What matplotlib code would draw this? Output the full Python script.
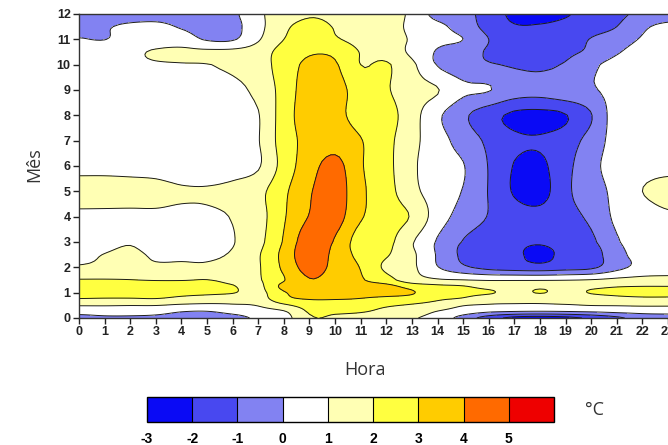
import numpy as np
import matplotlib
matplotlib.use("Agg")
import matplotlib.pyplot as plt

# Hourly temperature anomaly (degC) by month
hours = list(range(24))
months = [0, 0.25, 0.5, 0.75, 1.0, 1.25, 1.5, 2, 2.5, 3, 4, 5, 6, 7, 8, 9, 10, 10.5, 11, 11.5, 12]

row_0_00 = [-0.4, -0.2, -0.2, -0.3, -0.6, -0.7, -0.4, 0.2, 0.6, 1.9, 1.9, 1.7, 1.4, 1.1, 0.6, -0.4, -1.5, -2.3, -2.5, -2.3, -1.8, -1.2, -0.6, -0.4]
row_0_25 = [0.4, 0.5, 0.5, 0.4, 0.02, -0.05, 0.3, 0.6, 0.9, 2.1, 2.1, 2.05, 1.8, 1.5, 0.95, 0.5, 0.1, -0.05, -0.1, -0.05, 0.05, 0.2, 0.3, 0.3]
row_0_50 = [1.05, 1.05, 1.02, 1.02, 0.85, 0.8, 0.9, 1.05, 1.8, 2.4, 2.4, 2.3, 2.1, 1.9, 1.6, 1.05, 0.9, 0.85, 0.85, 0.9, 1.02, 1.05, 1.1, 1.1]
row_0_75 = [1.95, 1.9, 1.9, 1.95, 1.7, 1.5, 1.4, 1.5, 2.7, 3.05, 3.05, 2.95, 2.7, 2.5, 2.1, 1.9, 1.4, 1.3, 1.3, 1.4, 1.5, 1.7, 1.8, 1.8]
row_1_00 = [2.5, 2.5, 2.5, 2.5, 2.3, 2.2, 2.05, 1.7, 2.9, 3.6, 3.5, 3.3, 3.4, 3.1, 2.2, 2.2, 2.1, 1.7, 2.05, 1.7, 2.05, 2.2, 2.3, 2.3]
row_1_25 = [2.4, 2.4, 2.4, 2.4, 2.4, 2.3, 2.05, 1.75, 3.3, 3.8, 3.6, 3.3, 3.3, 2.6, 2.2, 2.05, 1.7, 1.6, 1.8, 1.7, 1.8, 1.95, 2.0, 2.0]
row_1_50 = [2.05, 2.05, 2.02, 1.95, 1.95, 2.02, 1.75, 1.9, 2.95, 3.95, 3.6, 3.1, 2.4, 1.4, 1.1, 1.02, 0.9, 0.9, 0.9, 0.95, 1.05, 1.2, 1.3, 1.3]
row_2_00 = [1.1, 1.2, 1.25, 1.15, 1.15, 1.15, 1.3, 1.9, 3.2, 4.4, 3.7, 2.95, 1.8, 1.2, 0.05, -0.8, -1.3, -1.5, -1.6, -1.4, -1.2, -0.3, 0.3, 0.5]
row_2_50 = [0.8, 1.02, 1.15, 0.9, 0.9, 0.9, 1.1, 1.9, 3.3, 4.7, 3.7, 2.7, 2.1, 1.2, -0.1, -1.2, -1.7, -1.8, -2.3, -1.7, -1.5, -0.3, 0.3, 0.5]
row_3_00 = [0.7, 0.8, 0.95, 0.7, 0.65, 0.65, 0.95, 1.7, 3.1, 4.6, 3.9, 2.5, 2.3, 1.1, -0.1, -1.05, -1.5, -1.8, -1.9, -1.6, -1.2, -0.1, 0.4, 0.5]
row_4_00 = [0.85, 0.85, 0.85, 0.85, 0.8, 0.85, 1.05, 1.6, 2.9, 4.05, 4.4, 3.1, 2.5, 1.9, 0.5, -0.4, -1.05, -1.6, -1.7, -1.3, -0.8, 0.2, 0.45, 0.8]
row_5_00 = [1.3, 1.3, 1.3, 1.25, 1.1, 1.08, 1.25, 1.7, 2.8, 3.9, 4.5, 3.2, 2.4, 1.3, 0.5, -0.05, -1.05, -2.1, -2.4, -1.2, -0.5, 0.3, 1.0, 1.45]
row_6_00 = [0.75, 0.75, 0.7, 0.65, 0.5, 0.5, 0.6, 0.9, 2.4, 3.6, 4.3, 3.1, 2.3, 1.2, 0.4, 0.05, -1.05, -2.05, -2.2, -1.3, -0.3, 0.4, 0.6, 0.65]
row_7_00 = [0.3, 0.3, 0.3, 0.3, 0.4, 0.5, 0.7, 0.95, 2.5, 3.3, 3.6, 3.05, 2.3, 1.3, 0.4, -0.4, -1.2, -1.8, -1.9, -1.5, -0.6, 0.4, 0.6, 0.6]
row_8_00 = [0.4, 0.4, 0.4, 0.4, 0.5, 0.6, 0.75, 0.95, 2.5, 3.5, 3.3, 2.6, 2.4, 1.4, 0.2, -0.8, -1.6, -2.2, -2.3, -2.05, -1.05, 0.5, 0.6, 0.6]
row_9_00 = [0.6, 0.6, 0.5, 0.5, 0.6, 0.75, 0.8, 1.25, 2.4, 3.5, 3.4, 2.5, 2.1, 1.4, 1.05, 0.2, 0.05, -0.5, -0.6, -0.3, -0.1, 0.3, 0.5, 0.5]
row_10_0 = [0.6, 0.7, 0.8, 0.9, 0.95, 0.98, 1.15, 1.5, 2.5, 3.2, 3.1, 2.0, 2.1, 1.2, -0.05, -0.6, -0.9, -1.1, -1.2, -0.9, -0.2, 0.3, 0.5, 0.6]
row_10_5 = [0.5, 0.6, 0.8, 1.1, 1.2, 1.2, 1.25, 1.5, 2.4, 2.9, 2.8, 1.95, 1.6, 0.8, -0.1, -0.6, -1.1, -1.5, -1.4, -1.2, -0.8, -0.1, 0.4, 0.6]
row_11_0 = [0.05, -0.02, 0.4, 0.5, 0.5, -0.1, -0.1, 0.9, 2.0, 2.5, 2.1, 1.7, 1.4, 0.9, 0.3, 0.0, -1.0, -1.5, -1.6, -1.5, -0.95, -0.5, 0.1, 0.5]
row_11_5 = [-0.3, -0.1, 0.2, 0.3, -0.1, -0.4, -0.3, 0.7, 1.8, 2.3, 1.95, 1.7, 1.4, 0.8, 0.3, -0.5, -1.3, -1.9, -1.9, -1.7, -1.4, -1.0, -0.2, 0.3]
row_12_0 = [-0.3, -0.5, -0.5, -0.5, -0.5, -0.4, -0.2, 0.8, 1.5, 1.9, 1.8, 1.7, 1.4, 0.8, -0.4, -0.8, -1.3, -2.3, -2.4, -2.1, -1.6, -1.2, -0.8, -0.6]

levels = [-3, -2, -1, 0, 1, 2, 3, 4, 5, 6]
level_colors = ["#0A0AF5", "#4848F0", "#8282F2", "#FFFFFF", "#FFFFB4",
                "#FFFF40", "#FFCC00", "#FF6A00", "#EE0000"]
cbar_ticks = [-3, -2, -1, 0, 1, 2, 3, 4, 5]

grid = np.array([row_0_00, row_0_25, row_0_50, row_0_75, row_1_00, row_1_25,
                 row_1_50, row_2_00, row_2_50, row_3_00, row_4_00, row_5_00,
                 row_6_00, row_7_00, row_8_00, row_9_00, row_10_0, row_10_5,
                 row_11_0, row_11_5, row_12_0])


def spline_refine(values, coords, axis, factor):
    """Catmull-Rom refinement along one axis (passes through every node)."""
    v = np.moveaxis(np.asarray(values, float), axis, 0)
    n = v.shape[0]
    t = np.linspace(0, n - 1, (n - 1) * factor + 1)
    i = np.clip(np.floor(t).astype(int), 0, n - 2)
    u = (t - i)[:, None]
    p0 = v[np.clip(i - 1, 0, n - 1)]
    p1 = v[i]
    p2 = v[i + 1]
    p3 = v[np.clip(i + 2, 0, n - 1)]
    out = 0.5 * (2 * p1 + (p2 - p0) * u
                 + (2 * p0 - 5 * p1 + 4 * p2 - p3) * u ** 2
                 + (3 * p1 - p0 - 3 * p2 + p3) * u ** 3)
    return np.moveaxis(out, 0, axis), np.interp(t, np.arange(n), coords)


fine, yy = spline_refine(grid, months, 0, 6)
fine, xx = spline_refine(fine, hours, 1, 6)

W, H = 668, 445
fig = plt.figure(figsize=(W / 100, H / 100), dpi=100)
ax = fig.add_axes([79 / W, (H - 318) / H, 589 / W, 304 / H])

cf = ax.contourf(xx, yy, fine, levels=levels, colors=level_colors)
ax.contour(xx, yy, fine, levels=levels[1:-1], colors="#1a1a1a",
           linewidths=0.7, linestyles="solid")

ax.set_xlim(0, 23)
ax.set_ylim(0, 12)
ax.set_xticks(hours)
ax.set_yticks(range(13))
tick_font = {"family": "Liberation Sans", "weight": "bold", "size": 9}
ax.set_xticklabels([str(h) for h in hours], fontdict=tick_font)
ax.set_yticklabels([str(m) for m in range(13)], fontdict=tick_font)
ax.tick_params(direction="out", length=4, width=1, pad=2, colors="#222222")
for side in ("left", "top", "bottom"):
    ax.spines[side].set_linewidth(1.0)
    ax.spines[side].set_color("#333333")
ax.spines["right"].set_visible(False)

fig.text(365 / W, 1 - 370 / H, "Hora", ha="center", va="center",
         fontsize=13, family="Open Sans", color="#333333")
fig.text(34 / W, 1 - 165 / H, "Mês", ha="center", va="center",
         rotation=90, fontsize=13, family="Open Sans", color="#333333")

cax = fig.add_axes([147 / W, (H - 422) / H, 407 / W, 25 / H])
cb = fig.colorbar(cf, cax=cax, orientation="horizontal", ticks=cbar_ticks,
                  drawedges=True)
cb.outline.set_linewidth(1.0)
cb.dividers.set_linewidth(0.8)
cb.ax.tick_params(length=0, pad=7)
cb.ax.set_xticklabels([str(t) for t in cbar_ticks],
                      fontdict={"family": "Liberation Sans", "weight": "bold",
                                "size": 10})
fig.text(585 / W, 1 - 410 / H, "°C", ha="left", va="center", fontsize=13,
         family="Open Sans", color="#333333")

fig.savefig("out.png", dpi=100)
